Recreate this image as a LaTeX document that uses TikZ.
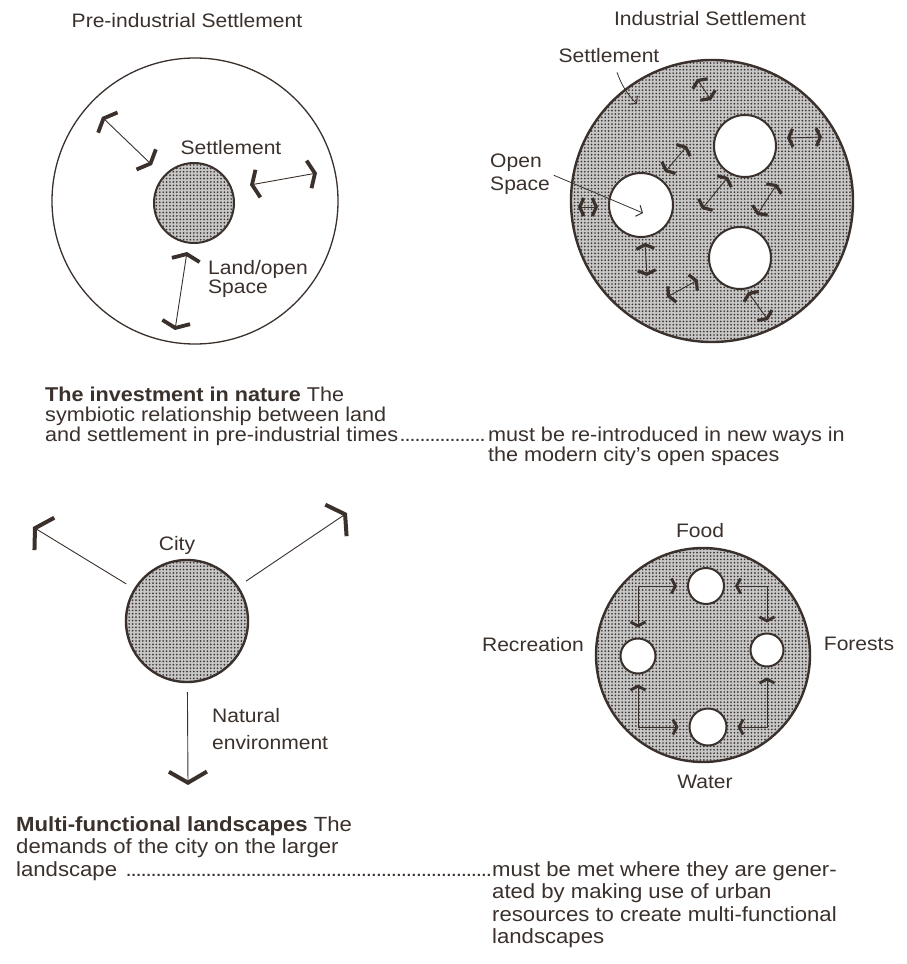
\documentclass[tikz,border=0pt]{standalone}
\usepackage{fontspec}
\setmainfont[FakeStretch=1.08]{Liberation Sans}
\usepackage{tikz}
\usetikzlibrary{positioning, arrows.meta, patterns.meta}
\definecolor{inkBrown}{HTML}{3B312C}
\definecolor{dotBrown}{HTML}{3F3530}
\newcommand{\dotlead}{\leaders\hbox to 5pt{\hss.\hss}\hfill}

\begin{document}
\begin{tikzpicture}[
  x=1pt, y=-1pt,
  lbl/.style={font=\fontsize{19.5}{19}\selectfont, text=inkBrown, inner sep=0pt},
  captext/.style={font=\fontsize{20}{20}\selectfont, text=inkBrown, align=left, inner sep=0pt},
  stipple/.style={circle, draw=inkBrown, line width=2.4pt, inner sep=0pt,
                  preaction={fill=black!22},
                  pattern={Dots[distance=3.4pt, radius=0.95pt]}, pattern color=dotBrown},
  hole/.style={circle, draw=inkBrown, line width=2pt, fill=white, inner sep=0pt},
  pull/.style={>={Straight Barb[length=6pt, width=28pt, line width=3.8pt]},
               <->, draw=inkBrown, line width=0.9pt},
  swap/.style={>={Straight Barb[length=4pt, width=18pt, line width=3.2pt]},
               <->, draw=inkBrown, line width=0.9pt},
  reach/.style={>={Straight Barb[length=11pt, width=38pt, line width=4pt]},
                ->, draw=inkBrown, line width=0.9pt, shorten <=9pt},
  loopway/.style={>={Straight Barb[length=4pt, width=15pt, line width=2.8pt]},
                  <->, draw=inkBrown, line width=0.9pt, shorten <=10pt, shorten >=10pt},
  note/.style={-{Straight Barb[length=5pt, width=12pt, line width=1pt]},
               draw=inkBrown, line width=0.8pt}
]
\useasboundingbox[fill=white] (0,0) rectangle (907,964);

\node[lbl, anchor=base] (pretitle) at (187,27) {Pre-industrial Settlement};
\node[circle, draw=inkBrown, line width=1.3pt, minimum size=286pt, inner sep=0pt] (land) at (195,201) {};
\node[stipple, line width=2pt, minimum size=80pt] (village) at (194,203) {};
\node[lbl, anchor=base] (villagel) at (231,154) {Settlement};
\node[lbl, anchor=base west, align=left] (landl) at (208,293) {Land/open\\Space};
\coordinate (la1) at (102,117);
\coordinate (lb1) at (152,165);
\coordinate (la2) at (250,185);
\coordinate (lb2) at (317,173);
\coordinate (la3) at (187,252);
\coordinate (lb3) at (175,330);
\draw[pull] (la1) -- (lb1);
\draw[pull] (la2) -- (lb2);
\draw[pull] (la3) -- (lb3);

\node[lbl, anchor=base] (indtitle) at (710,25) {Industrial Settlement};
\node[stipple, minimum size=282pt] (sprawl) at (712,201) {};
\node[hole, minimum size=64pt] (opena) at (641,205) {};
\node[hole, minimum size=62pt] (openb) at (745,146) {};
\node[hole, minimum size=62pt] (openc) at (740,258) {};
\node[lbl, anchor=base] (sprawll) at (609,62) {Settlement};
\node[lbl, anchor=base west, align=left, font=\fontsize{19.5}{23}\selectfont] (openl) at (490,190) {Open\\Space};
\coordinate (setp) at (637,104);
\coordinate (openp) at (643,213);
\draw[note] ([xshift=8pt, yshift=-10pt]sprawll.south) to[bend right=12] (setp);
\draw[note, shorten <=4pt] (openl.east) -- (openp);
\coordinate (ra1) at (697,79);
\coordinate (rb1) at (711,100);
\coordinate (ra2) at (787,138);
\coordinate (rb2) at (822,137);
\coordinate (ra3) at (687,146);
\coordinate (rb3) at (665,172);
\coordinate (ra4) at (578,207);
\coordinate (rb4) at (598,207);
\coordinate (ra5) at (728,177);
\coordinate (rb5) at (702,209);
\coordinate (ra6) at (777,184);
\coordinate (rb6) at (757,215);
\coordinate (ra7) at (645,243);
\coordinate (rb7) at (647,276);
\coordinate (ra8) at (698,280);
\coordinate (rb8) at (667,297);
\coordinate (ra9) at (748,292);
\coordinate (rb9) at (768,320);
\draw[swap] (ra1) -- (rb1);
\draw[swap] (ra2) -- (rb2);
\draw[swap] (ra3) -- (rb3);
\draw[swap] (ra4) -- (rb4);
\draw[swap] (ra5) -- (rb5);
\draw[swap] (ra6) -- (rb6);
\draw[swap] (ra7) -- (rb7);
\draw[swap] (ra8) -- (rb8);
\draw[swap] (ra9) -- (rb9);

\node[captext, anchor=base west] (capa) at (45,441)
  {\textbf{The investment in nature} The\\symbiotic relationship between land\\\hbox to 443pt{and settlement in pre-industrial times\dotlead}};
\node[captext, anchor=base west] (capb) at (488,461)
  {must be re-introduced in new ways in\\the modern city's open spaces};

\node[stipple, minimum size=122pt] (city) at (187,621) {};
\node[lbl, anchor=base] (cityl) at (177,550) {City};
\coordinate (envw) at (33,527);
\coordinate (enve) at (347,513);
\coordinate (envs) at (188,785);
\draw[reach] (city) -- (envw);
\draw[reach] (city) -- (enve);
\draw[reach] (city) -- (envs);
\node[lbl, anchor=base west, align=left, font=\fontsize{19.5}{27}\selectfont] (envl) at (212,749) {Natural\\environment};

\node[stipple, minimum size=214pt] (town) at (703,655) {};
\node[hole, minimum size=36pt] (food) at (706,586) {};
\node[hole, minimum size=33pt] (forest) at (767,650) {};
\node[hole, minimum size=35pt] (recr) at (638,656) {};
\node[hole, minimum size=37pt] (water) at (708,727) {};
\node[lbl, anchor=base] (foodl) at (700,537) {Food};
\node[lbl, anchor=base] (forestl) at (859,650) {Forests};
\node[lbl, anchor=base] (recrl) at (533,651) {Recreation};
\node[lbl, anchor=base] (waterl) at (705,788) {Water};
\draw[loopway] (recr) |- (food);
\draw[loopway] (food) -| (forest);
\draw[loopway] (forest) |- (water);
\draw[loopway] (water) -| (recr);

\node[captext, anchor=base west, font=\fontsize{20.5}{22.5}\selectfont] (capc) at (16,876)
  {\textbf{Multi-functional landscapes} The\\demands of the city on the larger\\\hbox to 476pt{landscape \dotlead}};
\node[captext, anchor=base west, font=\fontsize{20.5}{22.5}\selectfont] (capd) at (492,943.5)
  {must be met where they are gener-\\ated by making use of urban\\resources to create multi-functional\\landscapes};
\end{tikzpicture}
\end{document}
